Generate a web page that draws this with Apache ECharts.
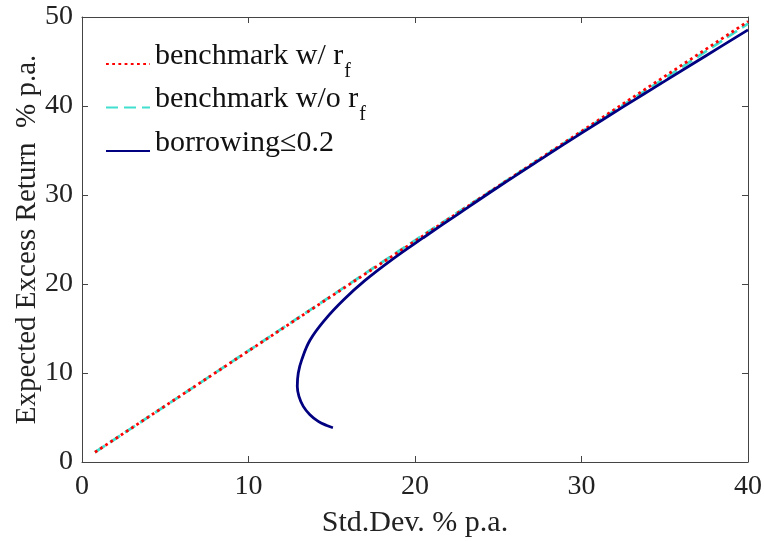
<!DOCTYPE html>
<html><head><meta charset="utf-8">
<script src="https://cdn.jsdelivr.net/npm/echarts@6/dist/echarts.min.js"></script>
<style>html,body{margin:0;padding:0;background:#fff}#c{width:764px;height:541px}</style>
</head><body><div id="c"></div>
<script>
const xTicks = [0, 10, 20, 30, 40];
const yTicks = [0, 10, 20, 30, 40, 50];
const seriesNames = ['benchmark w/ r', 'benchmark w/o r', 'borrowing\u22640.2'];
const benchWithRf = [[0.78, 1.1], [40, 49.5]];
const benchNoRfX = [0.78, 5, 10, 15, 20, 25, 30, 35, 40];
const benchNoRfY = [1.1, 6.3, 12.5, 18.7, 24.9, 31.0, 37.1, 43.1, 49.25];
const borrowX = [15.07, 14.7, 14.19, 13.69, 13.29, 13.03, 12.93, 12.99, 13.2, 13.7, 14.6, 15.7, 17.0, 18.7, 20.5, 22.7, 25, 27.5, 30, 32.5, 35, 37.5, 40];
const borrowY = [3.85, 4.1, 4.56, 5.31, 6.25, 7.37, 8.5, 10.0, 11.5, 13.7, 16.0, 18.2, 20.4, 22.85, 25.2, 28.0, 30.9, 33.95, 36.95, 39.9, 42.8, 45.68, 48.55];

const font = 'Liberation Serif';
const axisCol = '#444';
function zip(a, b) { return a.map((v, i) => [v, b[i]]); }
function tick() { return {show: true, inside: true, length: 6, lineStyle: {color: axisCol, width: 1}}; }
function line() { return {show: true, onZero: false, lineStyle: {color: axisCol, width: 1}}; }

const chart = echarts.init(document.getElementById('c'), null, {renderer: 'canvas'});
chart.setOption({
  animation: false,
  backgroundColor: '#fff',
  grid: {left: 82, right: 16, top: 17, bottom: 79, containLabel: false, outerBoundsMode: 'none'},
  legend: {
    orient: 'vertical', left: 100, top: 36, itemWidth: 44, itemHeight: 14, itemGap: -2.5,
    data: seriesNames,
    itemStyle: {opacity: 0},
    formatter: function (name) {
      if (name === seriesNames[0] || name === seriesNames[1]) return '{a|' + name + '}{s|f}';
      return '{a|' + name + '}';
    },
    textStyle: {
      fontFamily: font, fontSize: 30, color: '#111',
      rich: {
        a: {fontFamily: font, fontSize: 30, lineHeight: 30, color: '#111', padding: [0, 0, 16, 0]},
        s: {fontFamily: font, fontSize: 20, lineHeight: 20, color: '#111', padding: [14.5, 0, 0, 1]}
      }
    }
  },
  xAxis: [
    {
      type: 'value', min: 0, max: 40, interval: 10, position: 'bottom',
      axisLine: line(), axisTick: tick(), splitLine: {show: false},
      name: 'Std.Dev. % p.a.', nameLocation: 'middle', nameGap: 46,
      nameTextStyle: {fontFamily: font, fontSize: 30, color: '#222'},
      axisLabel: {fontFamily: font, fontSize: 28, color: '#222', margin: 11}
    },
    {
      type: 'value', min: 0, max: 40, interval: 10, position: 'top',
      axisLine: line(), axisTick: tick(), splitLine: {show: false}, axisLabel: {show: false}
    }
  ],
  yAxis: [
    {
      type: 'value', min: 0, max: 50, interval: 10, position: 'left',
      axisLine: line(), axisTick: tick(), splitLine: {show: false},
      name: 'Expected Excess Return  % p.a.', nameLocation: 'middle', nameGap: 40,
      nameMoveOverlap: false,
      nameTextStyle: {fontFamily: font, fontSize: 29, color: '#222'},
      axisLabel: {fontFamily: font, fontSize: 28, color: '#222', margin: 9}
    },
    {
      type: 'value', min: 0, max: 50, interval: 10, position: 'right',
      axisLine: line(), axisTick: tick(), splitLine: {show: false}, axisLabel: {show: false}
    }
  ],
  series: [
    {
      name: seriesNames[1], type: 'line', data: zip(benchNoRfX, benchNoRfY), showSymbol: false, symbol: 'none',
      z: 2, color: '#40e0d0',
      lineStyle: {color: '#40e0d0', width: 2.8, type: [12, 6]}
    },
    {
      name: seriesNames[0], type: 'line', data: benchWithRf, showSymbol: false, symbol: 'none',
      z: 3, color: '#ff0000',
      lineStyle: {color: '#ff0000', width: 2.8, type: [2.8, 3.4]}
    },
    {
      name: seriesNames[2], type: 'line', data: zip(borrowX, borrowY), showSymbol: false, symbol: 'none',
      smooth: 0.4, z: 4, color: '#000080',
      lineStyle: {color: '#000080', width: 2.8}
    }
  ]
});
</script></body></html>
